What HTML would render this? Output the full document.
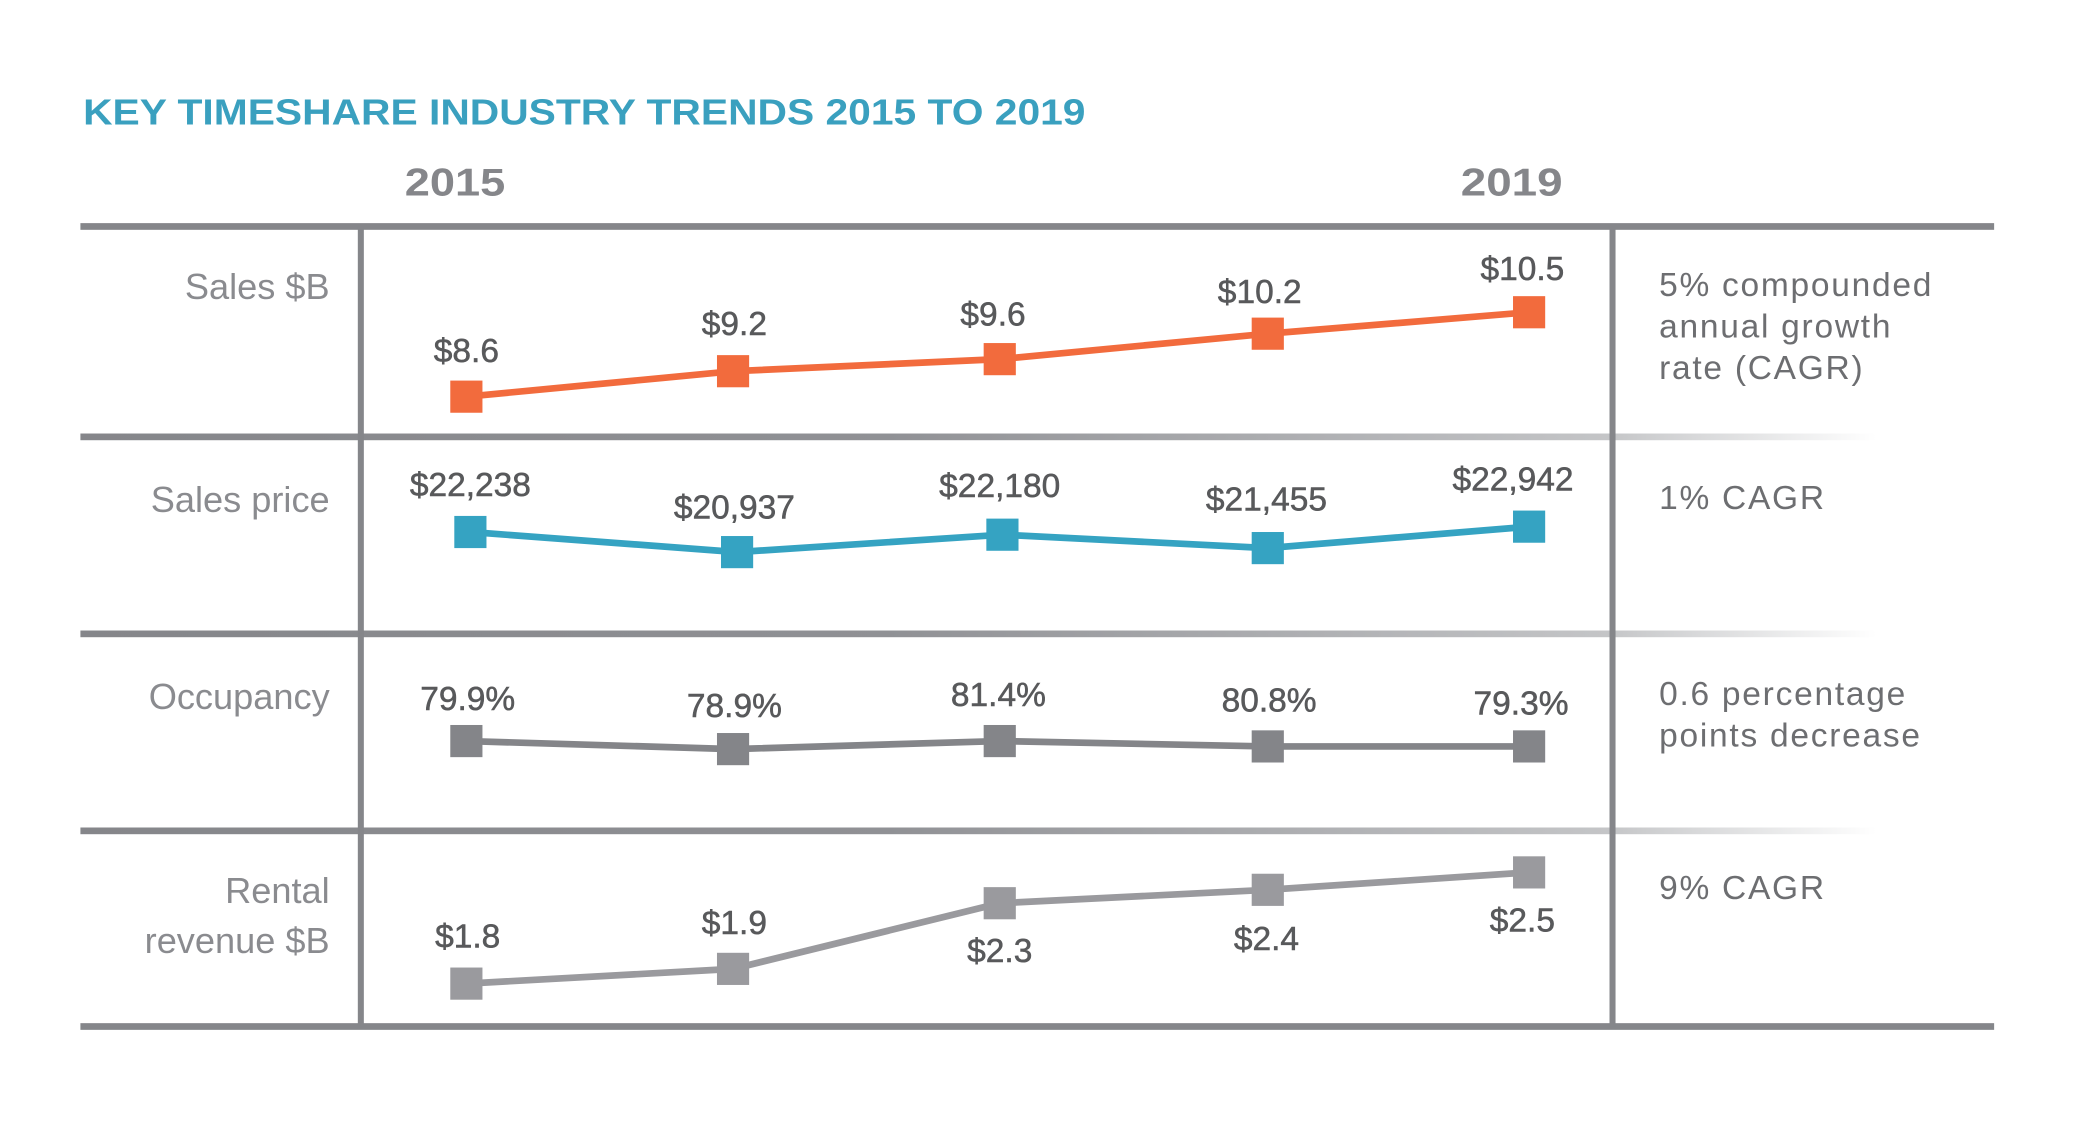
<!DOCTYPE html>
<html><head><meta charset="utf-8"><style>
html,body{margin:0;padding:0;background:#fff;}
svg{display:block;}
text{font-family:"Liberation Sans",sans-serif;}
</style></head><body>
<svg width="2100" height="1125" viewBox="0 0 1567 839.5" preserveAspectRatio="none" xmlns="http://www.w3.org/2000/svg">
<defs>
<linearGradient id="g" x1="60" x2="1400" y1="0" y2="0" gradientUnits="userSpaceOnUse">
<stop offset="0" stop-color="#85868a"/><stop offset="0.45" stop-color="#909195"/><stop offset="0.85" stop-color="#c4c5c7"/><stop offset="1" stop-color="#ffffff"/>
</linearGradient>
</defs>
<text x="62" y="93" font-size="27" font-weight="bold" fill="#3aa0bf" textLength="748" lengthAdjust="spacingAndGlyphs">KEY TIMESHARE INDUSTRY TRENDS 2015 TO 2019</text>
<text x="302" y="146" font-size="29" font-weight="bold" fill="#85868a" textLength="75" lengthAdjust="spacingAndGlyphs">2015</text>
<text x="1090" y="146" font-size="29" font-weight="bold" fill="#85868a" textLength="76" lengthAdjust="spacingAndGlyphs">2019</text>
<rect x="60" y="166.5" width="1428" height="5" fill="#85868a"/>
<rect x="60" y="763.5" width="1428" height="5" fill="#85868a"/>
<rect x="60" y="323.5" width="1340" height="5" fill="url(#g)"/>
<rect x="60" y="470.5" width="1340" height="5" fill="url(#g)"/>
<rect x="60" y="617.5" width="1340" height="5" fill="url(#g)"/>
<rect x="267" y="169" width="4.5" height="597" fill="#85868a"/>
<rect x="1201" y="169" width="4.5" height="597" fill="#85868a"/>
<g font-size="27" fill="#8a8b8f" text-anchor="end">
<text x="246" y="223">Sales $B</text>
<text x="246" y="382">Sales price</text>
<text x="246" y="529">Occupancy</text>
<text x="246" y="674">Rental</text>
<text x="246" y="711">revenue $B</text>
</g>
<g font-size="25" fill="#6d6e71" letter-spacing="1.3">
<text x="1238" y="221">5% compounded</text>
<text x="1238" y="252">annual growth</text>
<text x="1238" y="283">rate (CAGR)</text>
<text x="1238" y="380">1% CAGR</text>
<text x="1238" y="526">0.6 percentage</text>
<text x="1238" y="557">points decrease</text>
<text x="1238" y="671">9% CAGR</text>
</g>
<polyline points="348,296 547,277 746,268 946,249 1141,233" fill="none" stroke="#f26b3d" stroke-width="5"/>
<g fill="#f26b3d"><rect x="336" y="284" width="24" height="24"/><rect x="535" y="265" width="24" height="24"/><rect x="734" y="256" width="24" height="24"/><rect x="934" y="237" width="24" height="24"/><rect x="1129" y="221" width="24" height="24"/></g>
<polyline points="351,397 550,412 748,399 946,409 1141,393" fill="none" stroke="#35a3c2" stroke-width="5"/>
<g fill="#35a3c2"><rect x="339" y="385" width="24" height="24"/><rect x="538" y="400" width="24" height="24"/><rect x="736" y="387" width="24" height="24"/><rect x="934" y="397" width="24" height="24"/><rect x="1129" y="381" width="24" height="24"/></g>
<polyline points="348,553 547,559 746,553 946,557 1141,557" fill="none" stroke="#848589" stroke-width="5"/>
<g fill="#848589"><rect x="336" y="541" width="24" height="24"/><rect x="535" y="547" width="24" height="24"/><rect x="734" y="541" width="24" height="24"/><rect x="934" y="545" width="24" height="24"/><rect x="1129" y="545" width="24" height="24"/></g>
<polyline points="348,734 547,723 746,674 946,664 1141,651" fill="none" stroke="#9a9a9e" stroke-width="5"/>
<g fill="#9a9a9e"><rect x="336" y="722" width="24" height="24"/><rect x="535" y="711" width="24" height="24"/><rect x="734" y="662" width="24" height="24"/><rect x="934" y="652" width="24" height="24"/><rect x="1129" y="639" width="24" height="24"/></g>
<g font-size="25" fill="#58595b" text-anchor="middle" stroke="#58595b" stroke-width="0.4">
<text x="348" y="270">$8.6</text><text x="548" y="250">$9.2</text><text x="741" y="243">$9.6</text><text x="940" y="226">$10.2</text><text x="1136" y="209">$10.5</text>
<text x="351" y="370">$22,238</text><text x="548" y="387">$20,937</text><text x="746" y="371">$22,180</text><text x="945" y="381">$21,455</text><text x="1129" y="366">$22,942</text>
<text x="349" y="530">79.9%</text><text x="548" y="535">78.9%</text><text x="745" y="527">81.4%</text><text x="947" y="531">80.8%</text><text x="1135" y="533">79.3%</text>
<text x="349" y="707">$1.8</text><text x="548" y="697">$1.9</text><text x="746" y="718">$2.3</text><text x="945" y="709">$2.4</text><text x="1136" y="695">$2.5</text>
</g>
</svg>
</body></html>
